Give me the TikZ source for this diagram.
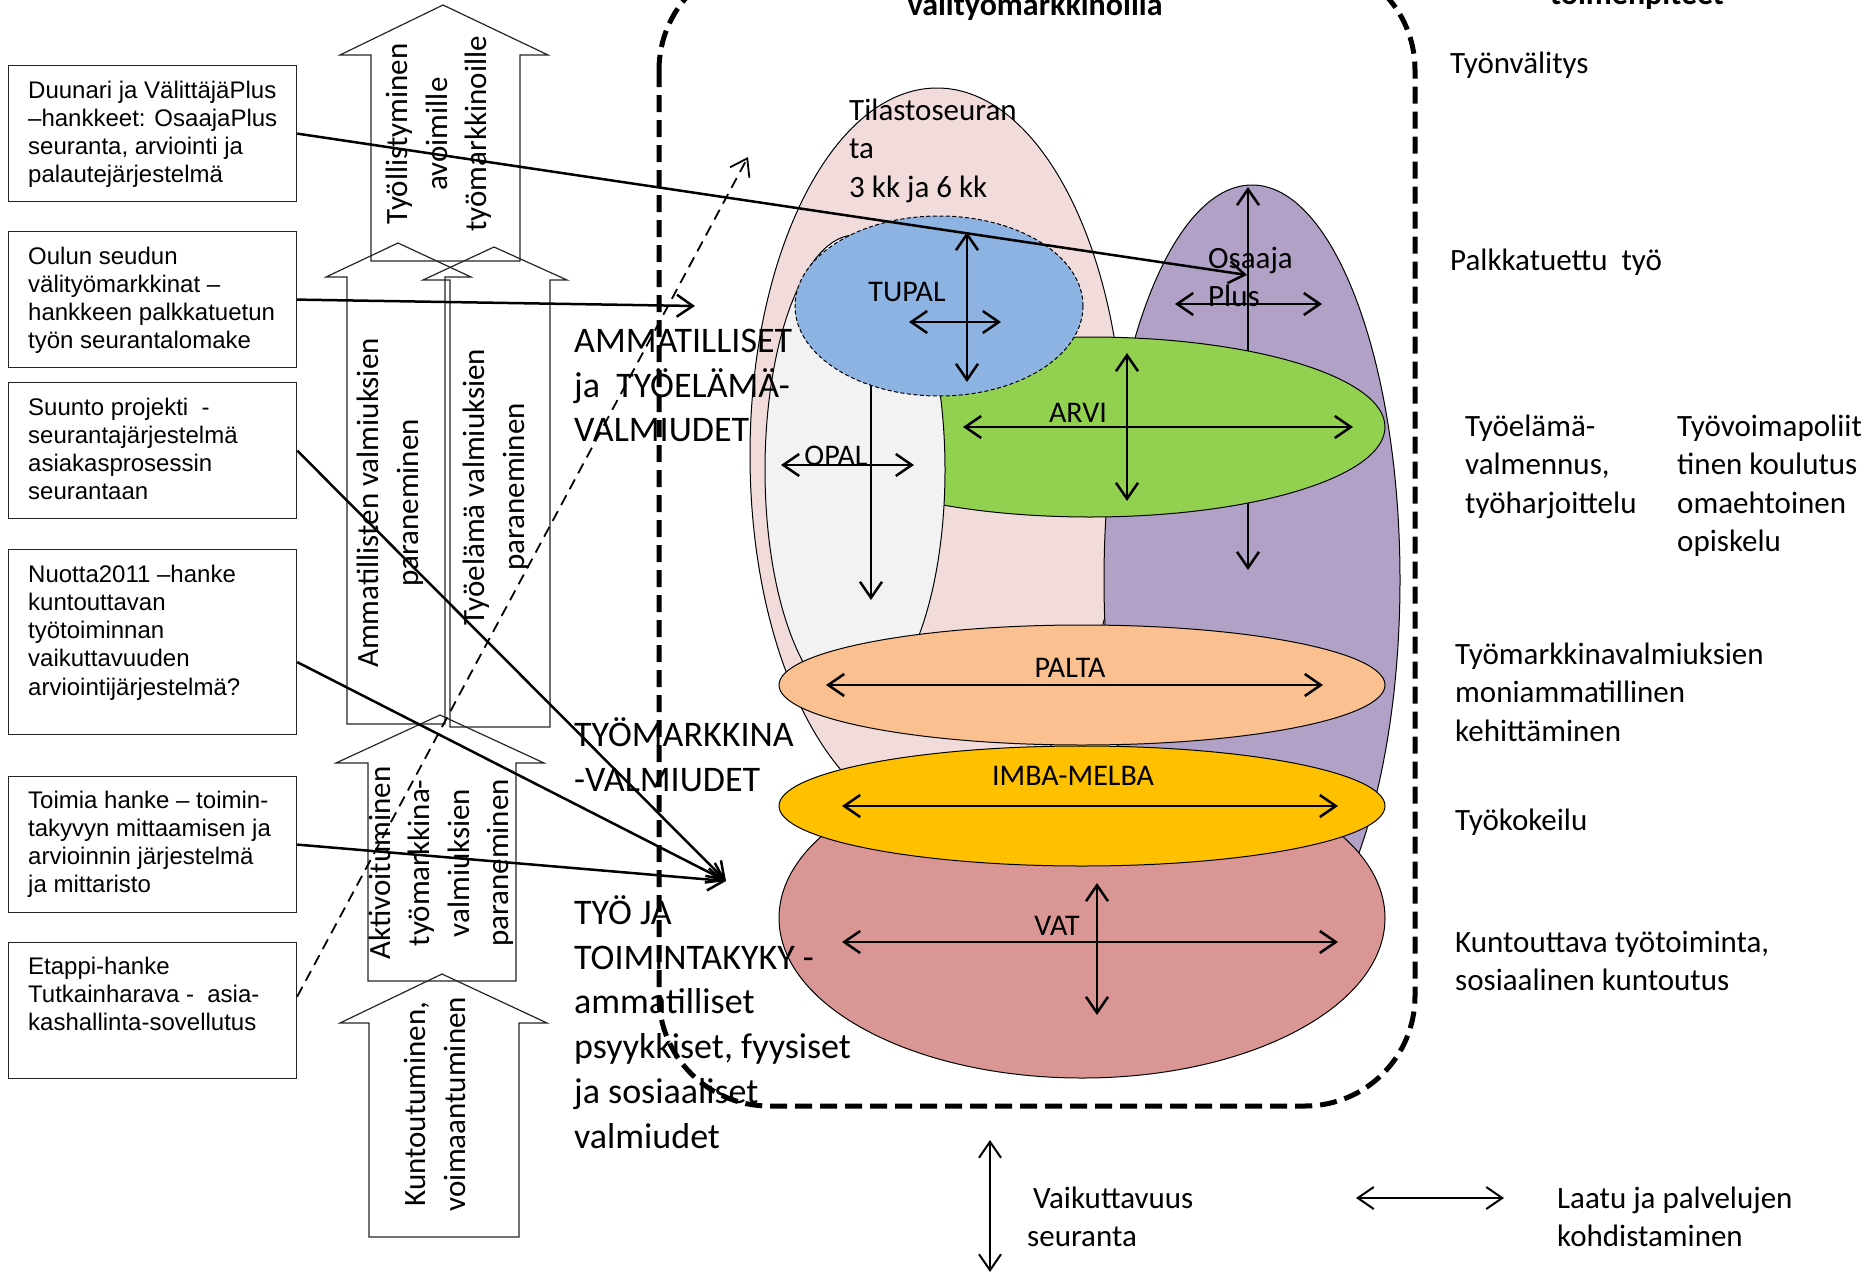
\documentclass[tikz,border=0pt]{standalone}
\usepackage{fontspec}
\setmainfont{Carlito}
\newfontfamily\arialfam{Liberation Sans}
\usetikzlibrary{arrows.meta,calc}
\definecolor{pinkfill}{HTML}{F2DCDB}
\definecolor{greyfill}{HTML}{F2F2F2}
\definecolor{bluefill}{HTML}{8DB3E2}
\definecolor{greenfill}{HTML}{92D050}
\definecolor{purplefill}{HTML}{B2A1C7}
\definecolor{orangefill}{HTML}{FAC090}
\definecolor{goldfill}{HTML}{FFC000}
\definecolor{redfill}{HTML}{D99694}
\newcommand{\myasc}{\rule{0pt}{0.9em}}
\tikzset{
  >={Straight Barb[length=16pt,width=22pt]},
  proj/.style={draw=black!85, line width=1.2pt, minimum width=288pt, minimum height=136pt, anchor=north west, inner sep=0pt},
  projtext/.style={anchor=north west, inner sep=0pt, align=left, font=\arialfam\fontsize{24}{28.2}\selectfont},
  blockarrow/.style={draw=black!85, line width=1.2pt},
  arrowtext/.style={rotate=90, align=center, inner sep=0pt, font=\fontsize{31}{39.5}\selectfont},
  blob/.style={draw=black, line width=1pt},
  inner/.style={line width=2.5pt},
  conn/.style={line width=2.5pt, ->},
  biglabel/.style={anchor=north west, inner sep=0pt, align=left, font=\fontsize{36}{44.8}\selectfont},
  rtext/.style={anchor=north west, inner sep=0pt, align=left, font=\fontsize{31}{38.4}\selectfont},
  elabel/.style={inner sep=0pt, font=\fontsize{30}{36}\selectfont},
  headtext/.style={anchor=base, inner sep=0pt, font=\bfseries\fontsize{32}{38}\selectfont}
}
\begin{document}
\begin{tikzpicture}[x=1pt,y=-1pt]
\useasboundingbox (0,0) rectangle (1872,1274);
\fill[white] (0,0) rectangle (1872,1274);
\clip (0,0) rectangle (1872,1274);

% ---- block arrows ----
\draw[blockarrow] (371,261) -- (371,55) -- (340,55) -- (443,5) -- (548,55) -- (520,55) -- (520,261) -- cycle;
\draw[blockarrow] (347,724) -- (347,277) -- (326,277) -- (398,243) -- (471,277) -- (445,277) -- (445,724) -- cycle;
\draw[blockarrow] (450,727) -- (450,280) -- (423,280) -- (494,247) -- (567,280) -- (550,280) -- (550,727) -- cycle;
\draw[blockarrow] (368,981) -- (368,763) -- (336,763) -- (440,715) -- (544,763) -- (516,763) -- (516,981) -- cycle;
\draw[blockarrow] (369,1237) -- (369,1023) -- (340,1023) -- (442,974) -- (547,1023) -- (519,1023) -- (519,1237) -- cycle;

\node[arrowtext] (ta) at (439,134) {Työllistyminen\\avoimille\\työmarkkinoille};
\node[arrowtext] (tb) at (390,503) {Ammatillisten valmiuksien\\paraneminen};
\node[arrowtext] (tc) at (496,487) {Työelämä valmiuksien\\paraneminen};
\node[arrowtext] (td) at (441,863) {Aktivoituminen\\työmarkkina-\\valmiuksien\\paraneminen};
\node[arrowtext] (te) at (435,1104) {Kuntoutuminen,\\voimaantuminen};

% ---- ellipses ----
\draw[blob, fill=pinkfill] (937,455) ellipse [x radius=187pt, y radius=367pt];
\draw[blob, fill=purplefill] (1252,580) ellipse [x radius=148pt, y radius=395pt];
\draw[inner, <->] (1248,187) -- (1248,570);
\draw[inner, <->] (1175,304) -- (1322,304);
\draw[blob, fill=greenfill] (1090,427) ellipse [x radius=295pt, y radius=90pt];
\draw[inner, <->] (963,427) -- (1353,427);
\draw[inner, <->] (1127,353) -- (1127,501);
\draw[blob, fill=greyfill] (855,470) ellipse [x radius=90pt, y radius=235pt];
\draw[inner, ->] (871,340) -- (871,600);
\draw[inner, <->] (781,465) -- (914,465);
\draw[line width=1pt, dash pattern=on 4pt off 2.5pt, fill=bluefill] (939,306) ellipse [x radius=144pt, y radius=90pt];
\draw[inner, <->] (967,232) -- (967,382);
\draw[inner, <->] (909,322) -- (1001,322);
\draw[blob, fill=orangefill] (1082,685) ellipse [x radius=303pt, y radius=60pt];
\draw[inner, <->] (826,685) -- (1323,685);
\draw[blob, fill=redfill] (1082,918) ellipse [x radius=303pt, y radius=160pt];
\draw[inner, <->] (842,942) -- (1338,942);
\draw[inner, <->] (1097,883) -- (1097,1015);
\draw[blob, fill=goldfill] (1082,806) ellipse [x radius=303pt, y radius=60pt];
\draw[inner, <->] (842,806) -- (1338,806);

% ellipse labels
\node[elabel] (ltupal) at (907,292) {TUPAL};
\node[elabel] (larvi) at (1078,413) {ARVI};
\node[elabel] (lopal) at (836,456) {OPAL};
\node[elabel] (lpalta) at (1070,668) {PALTA};
\node[elabel] (limba) at (1073,776) {IMBA-MELBA};
\node[elabel] (lvat) at (1057,926) {VAT};
\node[rtext] (losaaja) at (1208,240.1) {\myasc Osaaja\\Plus};
\node[rtext] (ltilasto) at (849,92.1) {\myasc Tilastoseuran\\ta\\3 kk ja 6 kk};

% ---- project boxes ----
\node[proj] (b1) at (8,65) {};
\node[proj] (b2) at (8,231) {};
\node[proj] (b3) at (8,382) {};
\node[proj, minimum height=185pt] (b4) at (8,549) {};
\node[proj] (b5) at (8,776) {};
\node[proj] (b6) at (8,942) {};
\node[projtext] (b1t) at (28,76.4) {\myasc Duunari ja VälittäjäPlus\\–hankkeet: OsaajaPlus\\seuranta, arviointi ja\\palautejärjestelmä};
\node[projtext] (b2t) at (28,242.4) {\myasc Oulun seudun\\välityömarkkinat –\\hankkeen palkkatuetun\\työn seurantalomake};
\node[projtext] (b3t) at (28,393.4) {\myasc Suunto projekti\ \ -\\seurantajärjestelmä\\asiakasprosessin\\seurantaan};
\node[projtext] (b4t) at (28,560.4) {\myasc Nuotta2011 –hanke\\kuntouttavan\\työtoiminnan\\vaikuttavuuden\\arviointijärjestelmä?};
\node[projtext] (b5t) at (28,786.4) {\myasc Toimia hanke – toimin-\\takyvyn mittaamisen ja\\arvioinnin järjestelmä\\ja mittaristo};
\node[projtext] (b6t) at (28,952.4) {\myasc Etappi-hanke\\Tutkainharava -\ \ asia-\\kashallinta-sovellutus};

% ---- connectors ----
\coordinate (tosaaja) at (1247,275);
\coordinate (tamm) at (695,306);
\coordinate (ttyo) at (726,881);
\coordinate (tdash) at (748,157);
\draw[conn] (b1.east) -- (tosaaja);
\draw[conn] (b2.east) -- (tamm);
\draw[conn] (b3.east) -- (ttyo);
\draw[conn] ($(b4.east)+(0,20)$) -- (ttyo);
\draw[conn] (b5.east) -- (ttyo);
\draw[line width=1.8pt, dash pattern=on 11pt off 7pt, ->] ($(b6.east)+(0,-14)$) -- (tdash);

% ---- dashed frame ----
\draw[line width=5pt, dash pattern=on 17pt off 8pt, rounded corners=110pt] (659,-40) rectangle (1415,1106);

% ---- headings ----
\node[headtext] (h1) at (1035,15) {välityömarkkinoilla};
\node[headtext] (h2) at (1637,5) {toimenpiteet};

% ---- level labels ----
\node[biglabel] (lv1) at (574,319.6) {\myasc AMMATILLISET\\ja\ \ TYÖELÄMÄ-\\VALMIUDET};
\node[biglabel] (lv2) at (574,713.6) {\myasc TYÖMARKKINA\\-VALMIUDET};
\node[biglabel] (lv3) at (574,891.6) {\myasc TYÖ JA\\TOIMINTAKYKY -\\ammatilliset\\psyykkiset, fyysiset\\ja sosiaaliset\\valmiudet};

% ---- right column ----
\node[rtext] (r1) at (1450,45.1) {\myasc Työnvälitys};
\node[rtext] (r2) at (1450,242.1) {\myasc Palkkatuettu\ \ työ};
\node[rtext] (r3) at (1465,408.1) {\myasc Työelämä-\\valmennus,\\työharjoittelu};
\node[rtext] (r4) at (1677,408.1) {\myasc Työvoimapoliit\\tinen koulutus\\omaehtoinen\\opiskelu};
\node[rtext] (r5) at (1455,636.1) {\myasc Työmarkkinavalmiuksien\\moniammatillinen\\kehittäminen};
\node[rtext] (r6) at (1455,802.1) {\myasc Työkokeilu};
\node[rtext] (r7) at (1455,924.1) {\myasc Kuntouttava työtoiminta,\\sosiaalinen kuntoutus};

% ---- legend ----
\coordinate (vtop) at (990,1140);
\coordinate (vbot) at (990,1272);
\draw[line width=2pt, <->] (vtop) -- (vbot);
\node[rtext] (lvaik) at (1027,1180.1) {\myasc\hspace*{6pt}Vaikuttavuus\\seuranta};
\coordinate (hleft) at (1356,1198);
\coordinate (hright) at (1504,1198);
\draw[line width=2pt, <->] (hleft) -- (hright);
\node[rtext] (llaatu) at (1557,1180.1) {\myasc Laatu ja palvelujen\\kohdistaminen};
\end{tikzpicture}
\end{document}
